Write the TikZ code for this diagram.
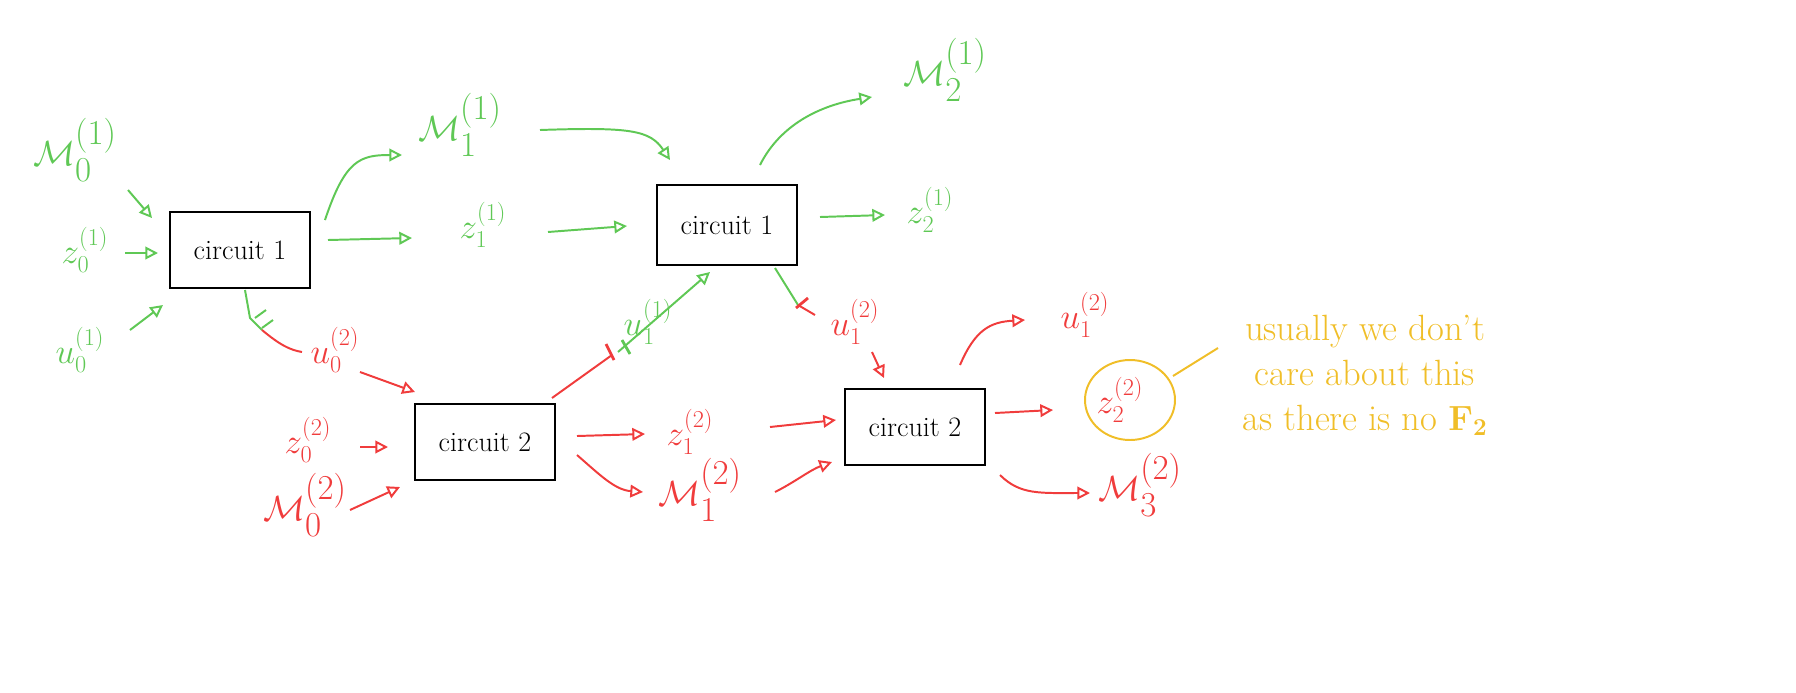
\documentclass[tikz,border=0pt]{standalone}
\usetikzlibrary{arrows.meta}
\usepackage{amsmath}
\definecolor{gr}{RGB}{95,200,85}
\definecolor{rd}{RGB}{240,60,60}
\definecolor{yl}{RGB}{240,190,40}
\begin{document}
\begin{tikzpicture}[x=0.025cm,y=-0.025cm,
  box/.style={draw=black,line width=2pt,minimum width=3.5cm,minimum height=1.9cm,font=\fontsize{20}{22}\selectfont,inner sep=0pt},
  ar/.style={-{Triangle[open,length=9pt,width=9pt]},line width=1.4pt},
  ln/.style={line width=1.4pt},
  lab/.style={font=\fontsize{24}{26}\selectfont,inner sep=1pt},
  big/.style={font=\fontsize{34}{36}\selectfont,inner sep=1pt}]
\useasboundingbox (0,0) rectangle (1796,692);
% boxes
\node[box] (c1) at (240,250) {circuit 1};
\node[box,minimum height=2cm] (c1b) at (727,225) {circuit 1};
\node[box] (c2) at (485,442) {circuit 2};
\node[box] (c2b) at (915,427) {circuit 2};
% green
\begin{scope}[gr]
\node[big] (M01) at (75,150) {$\mathcal{M}_0^{(1)}$};
\node[lab] (z01) at (85,250) {$z_0^{(1)}$};
\node[lab] (u01) at (80,350) {$u_0^{(1)}$};
\node[big] (M11) at (460,125) {$\mathcal{M}_1^{(1)}$};
\node[lab] (z11) at (483,225) {$z_1^{(1)}$};
\node[big] (M21) at (945,70) {$\mathcal{M}_2^{(1)}$};
\node[lab] (z21) at (930,210) {$z_2^{(1)}$};
\node[lab] (u11) at (648,322) {$u_1^{(1)}$};
\draw[ar] (128,190) -- (152,218);
\draw[ar] (125,253) -- (158,253);
\draw[ar] (130,330) -- (163,305);
\draw[ar] (325,220) .. controls (345,160) and (360,155) .. (402,155);
\draw[ar] (328,240) -- (412,238);
\draw[ar] (540,130) .. controls (630,127) and (650,130) .. (670,160);
\draw[ar] (548,232) -- (627,226);
\draw[ar] (760,165) .. controls (780,125) and (820,105) .. (872,97);
\draw[ar] (820,217) -- (885,215);
\end{scope}
% red
\begin{scope}[rd]
\node[lab] (u02) at (335,350) {$u_0^{(2)}$};
\node[lab] (z02) at (308,440) {$z_0^{(2)}$};
\node[big] (M02) at (305,505) {$\mathcal{M}_0^{(2)}$};
\node[lab] (z12) at (690,432) {$z_1^{(2)}$};
\node[big] (M12) at (700,490) {$\mathcal{M}_1^{(2)}$};
\node[lab] (u12) at (855,322) {$u_1^{(2)}$};
\node[lab] (u12b) at (1085,315) {$u_1^{(2)}$};
\node[lab] (z22) at (1120,400) {$z_2^{(2)}$};
\node[big] (M32) at (1140,485) {$\mathcal{M}_3^{(2)}$};
\draw[ar] (360,372) -- (415,392);
\draw[ar] (360,447) -- (388,447);
\draw[ar] (350,510) -- (400,487);
\draw[ar] (577,436) -- (645,434);
\draw[ar] (577,455) .. controls (600,475) and (615,490) .. (643,492);
\draw[ar] (770,427) -- (836,420);
\draw[ar] (775,492) .. controls (795,482) and (810,470) .. (832,462);
\draw[ar] (872,352) -- (884,378);
\draw[ar] (960,365) .. controls (975,330) and (990,322) .. (1025,320);
\draw[ar] (995,413) -- (1053,410);
\draw[ar] (1000,475) .. controls (1020,495) and (1040,493) .. (1090,493);
\end{scope}
% bridging connectors
\draw[gr,ln] (245,290) -- (250,318) -- (262,330);
\draw[rd,ln] (262,330) .. controls (280,345) and (290,350) .. (302,352);
\draw[gr,ln] (255,318) -- (266,310) (262,328) -- (273,320);
\draw[rd,ln] (552,398) -- (612,355);
\draw[rd,line width=2pt] (606,344) -- (614,360);
\draw[gr,ar] (618,352) -- (710,272);
\draw[gr,line width=2pt] (622,340) -- (630,354);
\draw[gr,ln] (775,268) -- (798,305);
\draw[rd,ln] (798,305) -- (815,315);
\draw[rd,line width=2pt] (796,308) -- (808,298);
% yellow
\draw[yl,line width=1.4pt] (1130,400) ellipse (45 and 40);
\node[yl,align=center,font=\fontsize{26}{32}\selectfont,inner sep=2pt] (note) at (1365,375) {usually we don't\\care about this\\as there is no $\mathbf{F_2}$};
\draw[yl,line width=1.4pt] (1173,376) -- (1218,348);
\end{tikzpicture}
\end{document}
